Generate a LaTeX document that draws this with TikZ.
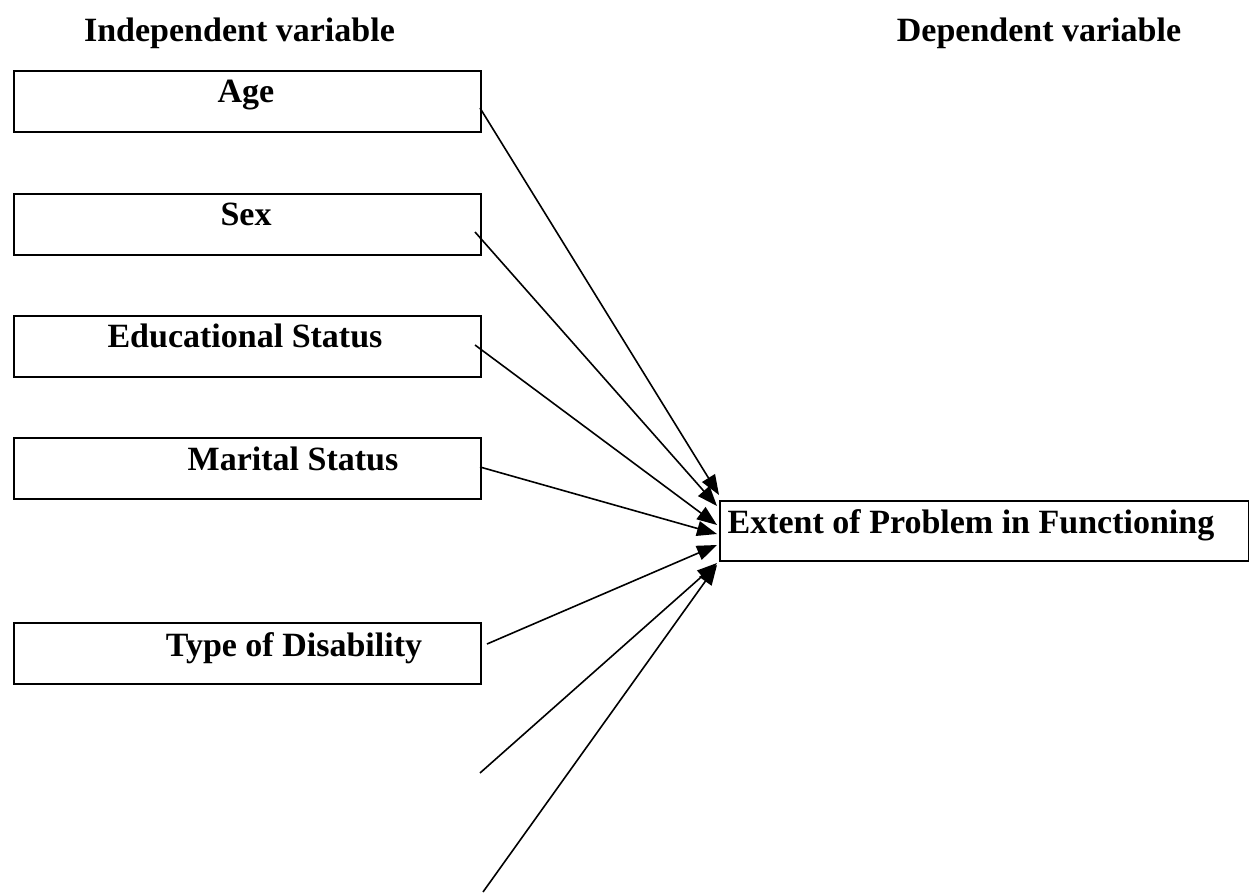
\documentclass[tikz,border=0pt]{standalone}
\usepackage{fontspec}
\setmainfont{Liberation Serif}
\usetikzlibrary{arrows.meta}
\begin{document}
\begin{tikzpicture}[x=0.5pt,y=-0.5pt,
  box/.style={draw,line width=1pt,minimum width=233.5pt,minimum height=30.5pt,inner sep=0pt,anchor=north west},
  lbl/.style={font=\fontsize{17}{20}\selectfont\bfseries,anchor=base,inner sep=0pt},
  link/.style={line width=0.8pt,-{Triangle[length=10pt,width=7.5pt]}}]
\useasboundingbox (0,0) rectangle (1249,893);
% headings
\node[lbl] (hind) at (239.5,42) {Independent variable};
\node[lbl] (hdep) at (1039,42) {Dependent variable};
% boxes
\node[box] (age) at (13,70) {};
\node[box] (sex) at (13,193) {};
\node[box] (edu) at (13,315) {};
\node[box] (mar) at (13,437) {};
\node[box] (typ) at (13,622) {};
\node[draw,line width=1pt,minimum width=264.5pt,minimum height=30pt,inner sep=0pt,anchor=north west] (ext) at (719,500) {};
% labels
\node[lbl] (tage) at (246,103) {Age};
\node[lbl] (tsex) at (246,226) {Sex};
\node[lbl] (tedu) at (245,348) {Educational Status};
\node[lbl] (tmar) at (293,471) {Marital Status};
\node[lbl] (ttyp) at (294,656) {Type of Disability};
\node[lbl] (text) at (971,533) {Extent of Problem in Functioning};
% connector ends
\coordinate (s1) at (480,108);
\coordinate (s2) at (475,232);
\coordinate (s3) at (475,345);
\coordinate (s4) at (480,467);
\coordinate (s5) at (487,644);
\coordinate (s6) at (480,773);
\coordinate (s7) at (483,892);
\coordinate (e1) at (719,495);
\coordinate (e2) at (717,506);
\coordinate (e3) at (717,525);
\coordinate (e4) at (717,534);
\coordinate (e5) at (717,545);
\coordinate (e6) at (717,563);
\coordinate (e7) at (717,565);
\draw[link] (s1) -- (e1);
\draw[link] (s2) -- (e2);
\draw[link] (s3) -- (e3);
\draw[link] (s4) -- (e4);
\draw[link] (s5) -- (e5);
\draw[link] (s6) -- (e6);
\draw[link] (s7) -- (e7);
\end{tikzpicture}
\end{document}
